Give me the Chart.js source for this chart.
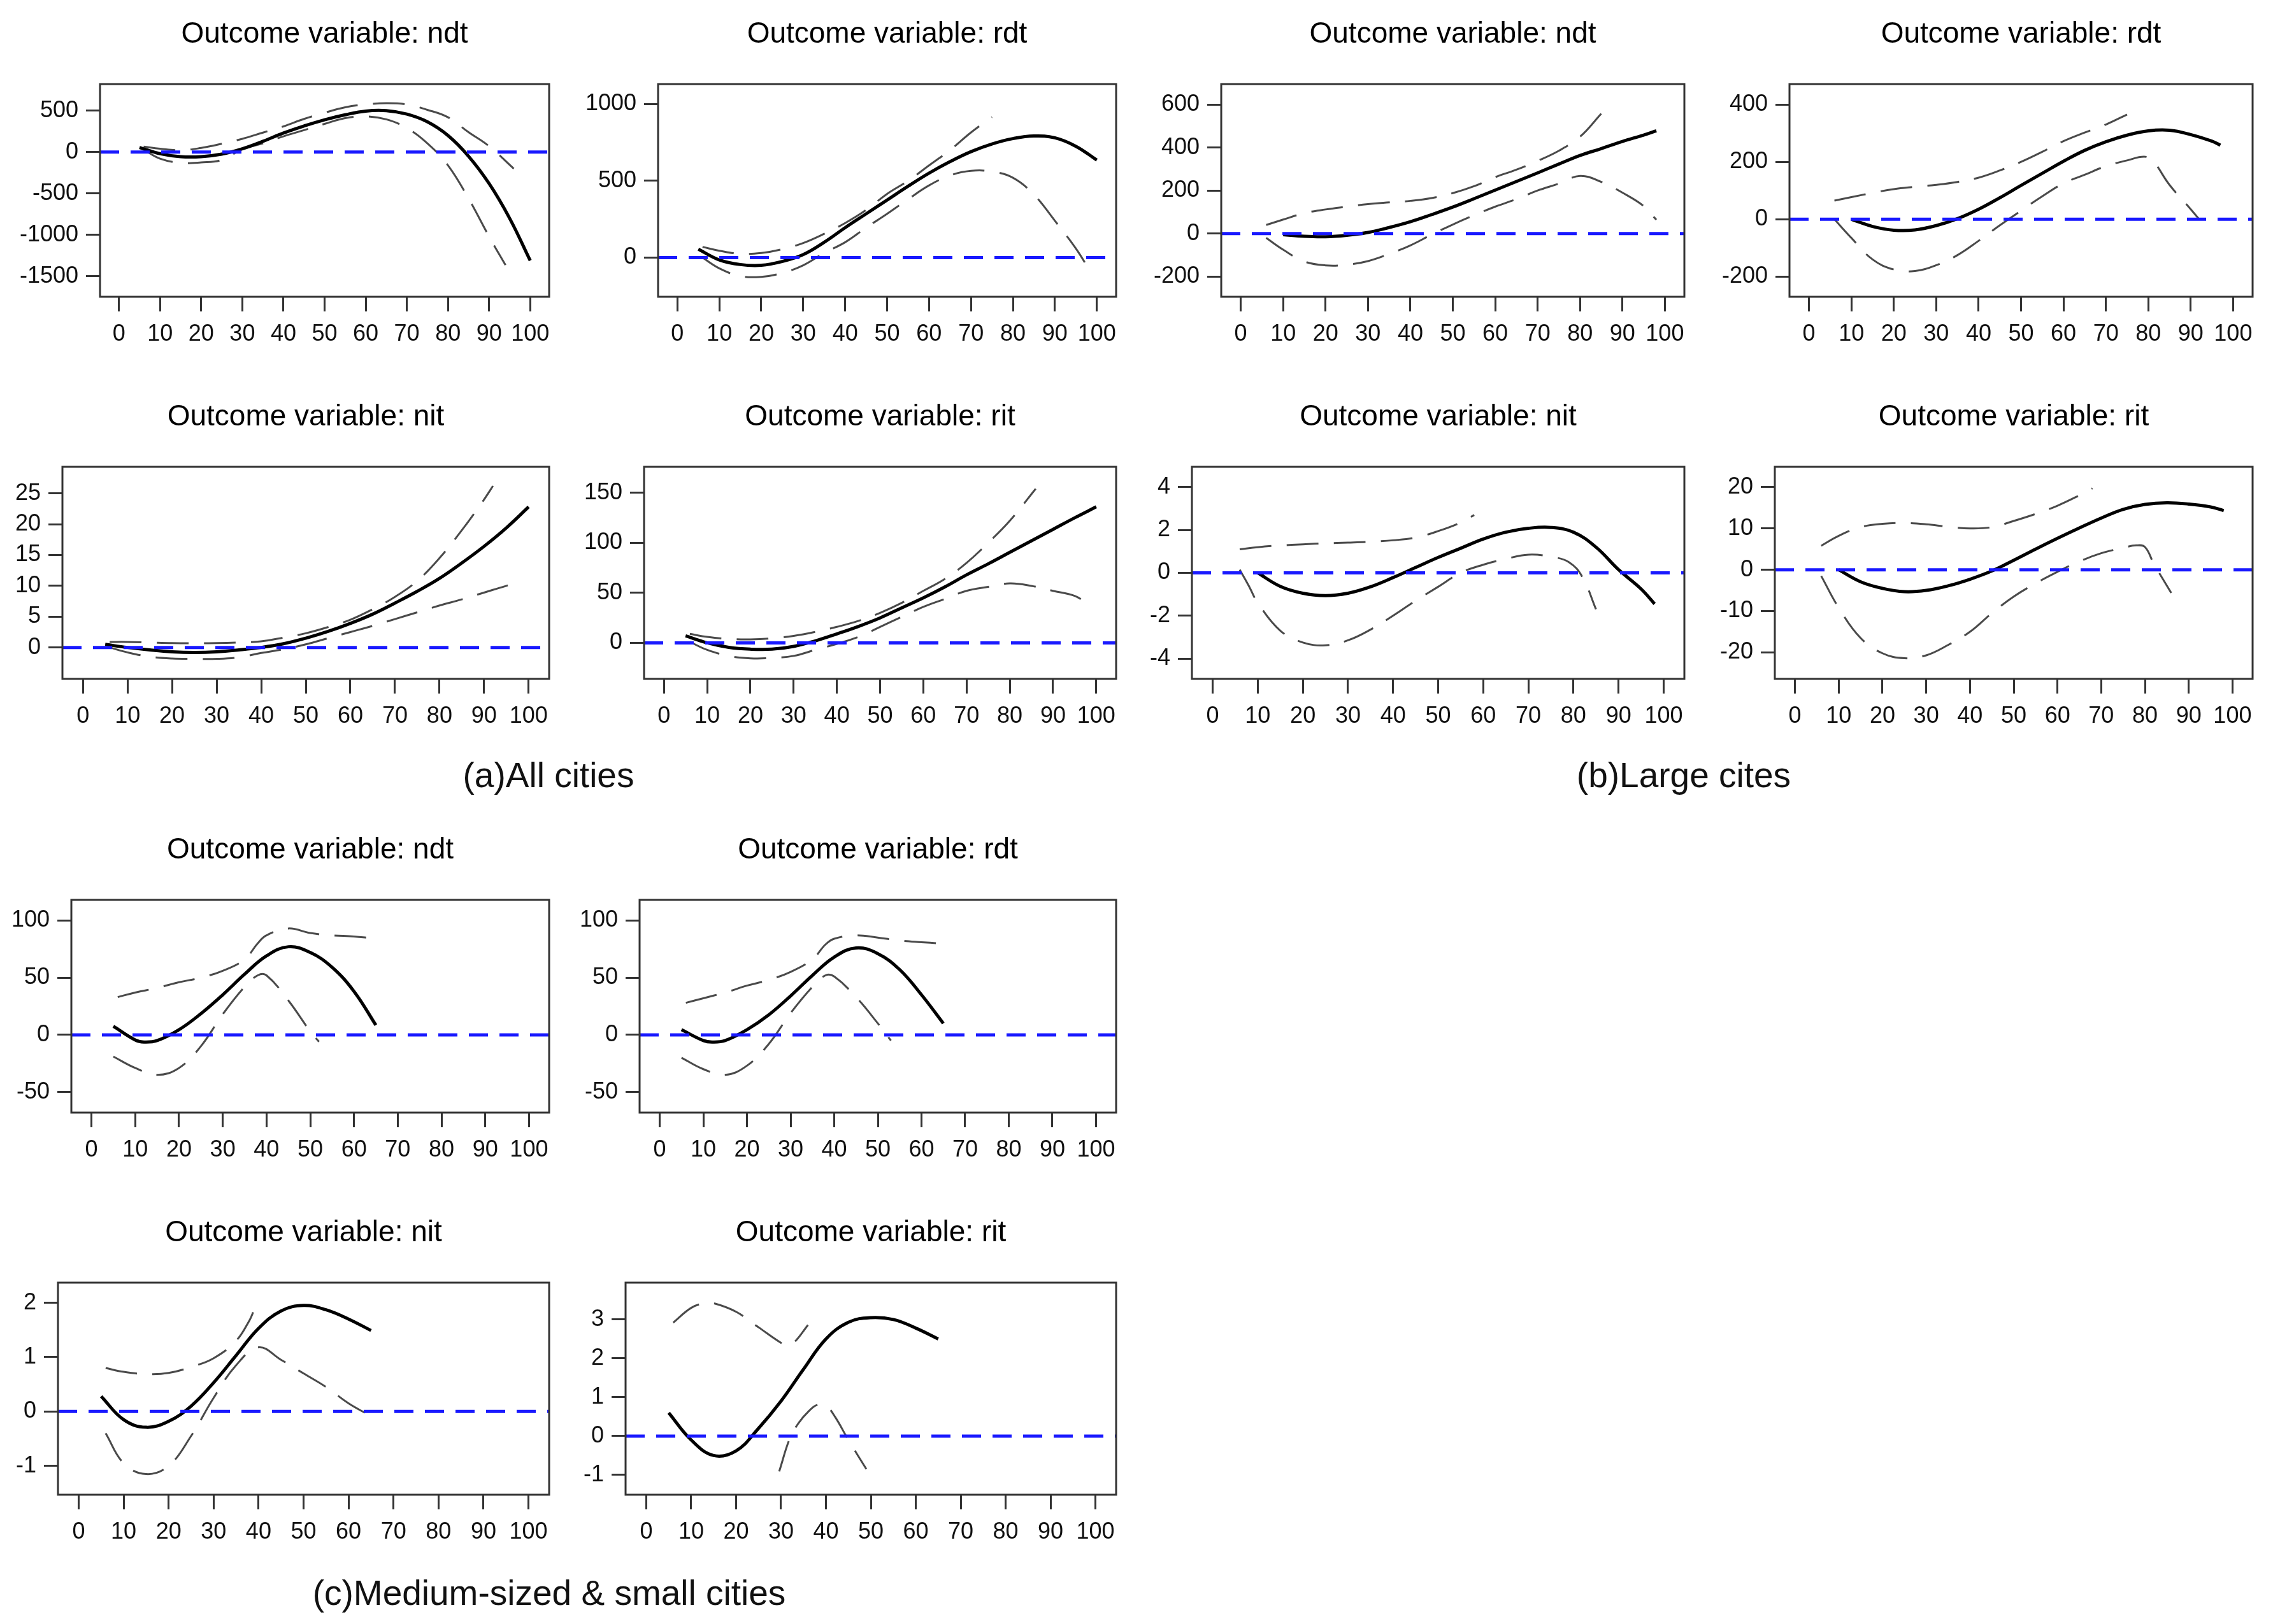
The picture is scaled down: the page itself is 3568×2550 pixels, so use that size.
<!DOCTYPE html>
<html>
<head>
<meta charset="utf-8">
<script src="https://cdn.jsdelivr.net/npm/chart.js@4.4.1/dist/chart.umd.min.js"></script>
<style>
  html, body { margin: 0; padding: 0; background: #fff; overflow: hidden; }
  #page { position: relative; width: 3568px; height: 2550px; background: #fff; }
  #page canvas { position: absolute; }
  .caption {
    position: absolute; transform: translate(-50%, -50%); white-space: nowrap;
    font-family: "Liberation Sans", Arial, sans-serif; font-size: 55px; color: #111;
  }
</style>
</head>
<body>
<div id="page">
  <div class="caption" style="left:861px; top:1217px;">(a)All cities</div>
  <div class="caption" style="left:2643px; top:1217px;">(b)Large cites</div>
  <div class="caption" style="left:862px; top:2501px;">(c)Medium-sized &amp; small cities</div>
</div>
<script>
// ---- data (x = threshold, y = effect) ----
const xTicks = [0, 10, 20, 30, 40, 50, 60, 70, 80, 90, 100];
const X_MIN = -4.6, X_MAX = 104.6;

// (a) All cities
const allNdtTicks = [-1500, -1000, -500, 0, 500];
const allNdtEst = [[5,55],[10,-20],[15,-55],[20,-55],[25,-25],[30,40],[35,130],[40,230],[45,315],[50,390],[55,450],[60,495],[65,500],[70,458],[75,365],[80,200],[85,-50],[90,-380],[95,-800],[100,-1310]];
const allNdtUp = [[6,65],[10,40],[15,22],[20,50],[25,100],[30,160],[35,235],[40,310],[45,400],[50,475],[55,540],[60,575],[65,590],[70,575],[75,510],[80,420],[85,240],[90,70],[96,-200]];
const allNdtLo = [[6,30],[10,-80],[15,-130],[20,-125],[25,-95],[30,35],[35,105],[40,190],[45,265],[50,340],[55,410],[60,430],[65,395],[70,290],[75,105],[80,-160],[85,-560],[90,-1020],[94,-1365]];

const allRdtTicks = [0, 500, 1000];
const allRdtEst = [[5,55],[10,-15],[15,-45],[20,-50],[25,-25],[30,20],[35,100],[40,195],[45,285],[50,375],[55,465],[60,550],[65,625],[70,690],[75,740],[80,775],[85,792],[90,780],[95,725],[100,635]];
const allRdtUp = [[6,70],[10,45],[15,25],[20,30],[25,55],[30,95],[35,155],[40,225],[45,310],[50,415],[55,500],[60,600],[65,700],[70,815],[75,915]];
const allRdtLo = [[6,0],[10,-70],[15,-120],[20,-125],[25,-100],[30,-50],[35,30],[40,100],[45,195],[50,285],[55,380],[60,470],[65,535],[70,565],[75,560],[80,520],[85,410],[90,240],[95,60],[98,-70]];

const allNitTicks = [0, 5, 10, 15, 20, 25];
const allNitEst = [[5,0.5],[10,0],[15,-0.4],[20,-0.7],[25,-0.8],[30,-0.7],[35,-0.4],[40,0],[45,0.6],[50,1.5],[55,2.6],[60,3.9],[65,5.4],[70,7.2],[75,9.1],[80,11.2],[85,13.7],[90,16.4],[95,19.4],[100,22.8]];
const allNitUp = [[6,0.9],[10,0.9],[15,0.8],[20,0.7],[25,0.7],[30,0.7],[35,0.8],[40,1.0],[45,1.6],[50,2.3],[55,3.3],[60,4.5],[65,6.2],[70,8.2],[75,10.8],[80,14.5],[85,19],[90,24],[92,26.2]];
const allNitLo = [[6,0],[10,-0.8],[15,-1.5],[20,-1.8],[25,-1.85],[30,-1.85],[35,-1.6],[40,-0.9],[45,-0.3],[50,0.5],[55,1.5],[60,2.5],[65,3.5],[70,4.6],[75,5.7],[80,6.8],[85,7.8],[90,8.9],[95,10],[98,10.6]];

const allRitTicks = [0, 50, 100, 150];
const allRitEst = [[5,7],[10,0],[15,-4.5],[20,-6.3],[25,-6.3],[30,-3.5],[35,2],[40,9],[45,16.5],[50,25],[55,35],[60,45],[65,56],[70,68],[75,79],[80,90.5],[85,102],[90,113.5],[95,125],[100,136]];
const allRitUp = [[6,9],[10,6],[15,4],[20,3.5],[25,4.5],[30,7],[35,11],[40,16],[45,22],[50,30],[55,40],[60,52],[65,64],[70,80],[75,100],[80,122],[86,154]];
const allRitLo = [[6,1],[10,-7],[15,-13],[20,-15.4],[25,-15],[30,-13],[35,-7],[40,-1],[45,6],[50,16],[55,26],[60,36],[65,44],[70,52],[75,56],[80,59.5],[85,57],[90,52],[95,47],[98,39]];

// (b) Large cities
const bigNdtTicks = [-200, 0, 200, 400, 600];
const bigNdtEst = [[10,-5],[15,-13],[20,-15],[25,-8],[30,5],[35,28],[40,55],[45,88],[50,123],[55,162],[60,202],[65,242],[70,282],[75,323],[80,363],[85,395],[90,428],[95,458],[98,478]];
const bigNdtUp = [[6,40],[10,65],[15,95],[20,112],[25,125],[30,137],[35,145],[40,152],[45,165],[50,188],[55,220],[60,262],[65,297],[70,338],[75,385],[80,450],[85,557]];
const bigNdtLo = [[6,-20],[10,-75],[15,-130],[20,-148],[25,-145],[30,-128],[35,-95],[40,-55],[45,-5],[50,42],[55,85],[60,125],[65,160],[70,200],[75,232],[80,268],[85,240],[90,190],[95,128],[98,64]];

const bigRdtTicks = [-200, 0, 200, 400];
const bigRdtEst = [[10,0],[15,-25],[20,-38],[25,-37],[30,-22],[35,2],[40,35],[45,75],[50,118],[55,160],[60,202],[65,240],[70,270],[75,293],[80,308],[85,310],[90,295],[95,272],[97,258]];
const bigRdtUp = [[6,65],[10,77],[15,92],[20,105],[25,113],[30,120],[35,130],[40,145],[45,170],[50,200],[55,235],[60,272],[65,302],[70,330],[75,365]];
const bigRdtLo = [[6,0],[10,-65],[15,-140],[20,-175],[25,-180],[30,-160],[35,-125],[40,-75],[45,-21],[50,30],[55,80],[60,125],[65,155],[70,185],[75,205],[79,218],[81,205],[85,120],[90,35],[92,0]];

const bigNitTicks = [-4, -2, 0, 2, 4];
const bigNitEst = [[10,0],[15,-0.63],[20,-0.95],[25,-1.06],[30,-0.95],[35,-0.65],[40,-0.22],[45,0.25],[50,0.72],[55,1.15],[60,1.58],[65,1.9],[70,2.08],[75,2.12],[80,1.9],[85,1.2],[90,0.15],[95,-0.75],[98,-1.45]];
const bigNitUp = [[6,1.1],[10,1.2],[15,1.28],[20,1.33],[25,1.38],[30,1.41],[35,1.45],[40,1.52],[45,1.65],[50,1.95],[55,2.35],[58,2.7]];
const bigNitLo = [[6,0.15],[8,-0.6],[10,-1.4],[15,-2.7],[20,-3.25],[25,-3.38],[30,-3.15],[35,-2.65],[40,-2.0],[45,-1.3],[50,-0.65],[55,0],[60,0.38],[65,0.65],[70,0.85],[75,0.75],[79,0.5],[82,-0.2],[85,-1.7]];

const bigRitTicks = [-20, -10, 0, 10, 20];
const bigRitEst = [[10,0],[15,-2.9],[20,-4.5],[25,-5.3],[30,-5.0],[35,-3.9],[40,-2.3],[45,-0.3],[50,2.3],[55,5],[60,7.6],[65,10.1],[70,12.5],[75,14.6],[80,15.8],[85,16.2],[90,15.9],[95,15.2],[98,14.3]];
const bigRitUp = [[6,5.8],[10,8.2],[15,10.3],[20,11.1],[25,11.3],[30,11],[35,10.4],[40,10],[45,10.3],[50,11.8],[55,13.5],[60,15.5],[65,18],[68,19.7]];
const bigRitLo = [[6,-1.5],[10,-9.2],[15,-16.5],[20,-20.2],[25,-21.4],[30,-20.7],[35,-18.2],[40,-15],[45,-10.5],[50,-6.5],[55,-3.3],[60,-0.5],[65,2],[70,4],[75,5.3],[78,5.9],[80,5.5],[82,1.5],[86,-5.6]];

// (c) Medium-sized & small cities
const medNdtTicks = [-50, 0, 50, 100];
const medNdtEst = [[5,7.5],[10,-4.5],[12,-6.3],[15,-5],[20,4.5],[25,18.5],[30,35],[35,53],[40,69],[45,77],[50,72],[55,59],[60,38],[65,8.5]];
const medNdtUp = [[6,33],[10,37],[15,41],[20,46],[25,50],[30,56],[35,66],[38,80],[40,87],[45,93],[50,89],[55,87],[60,86],[64,84.5]];
const medNdtLo = [[5,-19],[10,-29],[15,-35],[20,-29],[25,-10],[30,18],[35,42],[38,52],[40,52],[45,30],[50,3],[52,-6]];

const medRdtTicks = [-50, 0, 50, 100];
const medRdtEst = [[5,4.5],[10,-5],[12,-6.3],[15,-5],[20,4.5],[25,17.5],[30,34],[35,52],[40,68],[45,76],[50,71],[55,57],[60,35],[65,10]];
const medRdtUp = [[6,28],[10,32],[15,37],[20,43],[25,48],[30,55],[35,66],[38,79],[40,84],[45,87],[50,85],[55,82.5],[60,81],[64,80]];
const medRdtLo = [[5,-20],[10,-30],[15,-35],[20,-27],[25,-8],[30,19],[35,42],[38,52],[40,51],[45,33],[50,10],[53,-5]];

const medNitTicks = [-1, 0, 1, 2];
const medNitEst = [[5,0.28],[10,-0.15],[15,-0.29],[20,-0.18],[25,0.1],[30,0.53],[35,1.03],[40,1.53],[45,1.85],[50,1.95],[55,1.87],[60,1.7],[65,1.49]];
const medNitUp = [[6,0.8],[10,0.73],[15,0.69],[20,0.71],[25,0.82],[30,0.98],[35,1.3],[38,1.68],[39,1.87]];
const medNitLo = [[6,-0.4],[10,-0.95],[15,-1.15],[20,-1.0],[25,-0.45],[30,0.25],[35,0.85],[40,1.18],[45,0.95],[50,0.7],[55,0.45],[60,0.15],[64,-0.04]];

const medRitTicks = [-1, 0, 1, 2, 3];
const medRitEst = [[5,0.6],[10,-0.1],[15,-0.5],[20,-0.38],[25,0.2],[30,0.9],[35,1.72],[40,2.5],[45,2.93],[50,3.05],[55,3.0],[60,2.78],[65,2.5]];
const medRitUp = [[6,2.92],[10,3.3],[13,3.42],[15,3.42],[20,3.2],[25,2.8],[30,2.4],[31.5,2.33],[33,2.42],[36,2.86]];
const medRitLo = [[29.6,-0.91],[32,-0.05],[34,0.35],[36,0.62],[38,0.8],[40,0.78],[42,0.5],[45,-0.1],[49,-0.85]];

// ---- panel layout (plot box in page px: left, top, right, bottom) ----
const panels = [
  { title: "Outcome variable: ndt", box: [157, 132, 862, 466],  y: [-1747, 821],  ticks: allNdtTicks, est: allNdtEst, up: allNdtUp, lo: allNdtLo },
  { title: "Outcome variable: rdt", box: [1033, 132, 1752, 466], y: [-255, 1130],  ticks: allRdtTicks, est: allRdtEst, up: allRdtUp, lo: allRdtLo },
  { title: "Outcome variable: ndt", box: [1917, 132, 2644, 466], y: [-294, 695],   ticks: bigNdtTicks, est: bigNdtEst, up: bigNdtUp, lo: bigNdtLo },
  { title: "Outcome variable: rdt", box: [2809, 132, 3536, 466], y: [-270, 471],   ticks: bigRdtTicks, est: bigRdtEst, up: bigRdtUp, lo: bigRdtLo },
  { title: "Outcome variable: nit", box: [98, 733, 862, 1066],   y: [-5.1, 29.3],  ticks: allNitTicks, est: allNitEst, up: allNitUp, lo: allNitLo },
  { title: "Outcome variable: rit", box: [1011, 733, 1752, 1066], y: [-36, 176],   ticks: allRitTicks, est: allRitEst, up: allRitUp, lo: allRitLo },
  { title: "Outcome variable: nit", box: [1871, 733, 2644, 1066], y: [-4.95, 4.95], ticks: bigNitTicks, est: bigNitEst, up: bigNitUp, lo: bigNitLo },
  { title: "Outcome variable: rit", box: [2786, 733, 3536, 1066], y: [-26.4, 24.9], ticks: bigRitTicks, est: bigRitEst, up: bigRitUp, lo: bigRitLo },
  { title: "Outcome variable: ndt", box: [112, 1413, 862, 1747],  y: [-68, 118],   ticks: medNdtTicks, est: medNdtEst, up: medNdtUp, lo: medNdtLo },
  { title: "Outcome variable: rdt", box: [1004, 1413, 1752, 1747], y: [-68, 118],  ticks: medRdtTicks, est: medRdtEst, up: medRdtUp, lo: medRdtLo },
  { title: "Outcome variable: nit", box: [91, 2014, 862, 2347],   y: [-1.53, 2.37], ticks: medNitTicks, est: medNitEst, up: medNitUp, lo: medNitLo },
  { title: "Outcome variable: rit", box: [982, 2014, 1752, 2347], y: [-1.51, 3.95], ticks: medRitTicks, est: medRitEst, up: medRitUp, lo: medRitLo }
];

const FONT = '"Liberation Sans", Arial, sans-serif';
const PAD_L = 200, PAD_R = 30, PAD_T = 140, PAD_B = 110;

function toXY(pairs) {
  return pairs.map(([x, y]) => ({ x: x, y: y }));
}

// frame around the plotting region (R style box)
const framePlugin = {
  id: "frame",
  afterDatasetsDraw(chart) {
    const { ctx, chartArea: a } = chart;
    ctx.save();
    ctx.strokeStyle = "#333";
    ctx.lineWidth = 3;
    ctx.strokeRect(a.left, a.top, a.right - a.left, a.bottom - a.top);
    ctx.restore();
  }
};

function axisTicks(list) {
  return scale => { scale.ticks = list.map(v => ({ value: v })); };
}

// plain numbers, no thousands separator
const plain = v => String(v);

function makePanel(p) {
  const [l, t, r, b] = p.box;
  const w = (r - l) + PAD_L + PAD_R;
  const h = (b - t) + PAD_T + PAD_B;
  const cv = document.createElement("canvas");
  cv.width = w; cv.height = h;
  cv.style.left = (l - PAD_L) + "px";
  cv.style.top = (t - PAD_T) + "px";
  cv.style.width = w + "px"; cv.style.height = h + "px";
  document.getElementById("page").appendChild(cv);

  const zeroLine = [[X_MIN, 0], [X_MAX, 0]];
  const ciStyle = { borderColor: "#4a4a4a", borderWidth: 3, borderDash: [50, 24] };

  new Chart(cv.getContext("2d"), {
    type: "line",
    data: {
      datasets: [
        { data: toXY(zeroLine), borderColor: "rgb(25,25,255)", borderWidth: 5, borderDash: [30, 18], tension: 0 },
        { data: toXY(p.est), borderColor: "#000", borderWidth: 5 },
        Object.assign({ data: toXY(p.up) }, ciStyle),
        Object.assign({ data: toXY(p.lo) }, ciStyle)
      ]
    },
    options: {
      responsive: false,
      animation: false,
      devicePixelRatio: 1,
      layout: { padding: { left: 0, right: PAD_R, top: 0, bottom: 0 } },
      elements: {
        point: { radius: 0 },
        line: { tension: 0.4, fill: false }
      },
      plugins: {
        legend: { display: false },
        tooltip: { enabled: false },
        title: {
          display: true, text: p.title, fullSize: false, color: "#000",
          font: { family: FONT, size: 46, weight: "normal" },
          padding: { top: 35, bottom: PAD_T - 35 - 55.2 }
        }
      },
      scales: {
        x: {
          type: "linear", min: X_MIN, max: X_MAX,
          afterBuildTicks: axisTicks(xTicks),
          afterFit: s => { s.height = PAD_B; },
          border: { display: false },
          grid: { drawOnChartArea: false, drawTicks: true, tickLength: 23, tickWidth: 3, tickColor: "#333" },
          ticks: { color: "#111", font: { family: FONT, size: 36 }, padding: 14, maxRotation: 0, autoSkip: false, callback: plain }
        },
        y: {
          type: "linear", min: p.y[0], max: p.y[1],
          afterBuildTicks: axisTicks(p.ticks),
          afterFit: s => { s.width = PAD_L; },
          border: { display: false },
          grid: { drawOnChartArea: false, drawTicks: true, tickLength: 22, tickWidth: 3, tickColor: "#333" },
          ticks: { color: "#111", font: { family: FONT, size: 36 }, padding: 12, autoSkip: false, callback: plain }
        }
      }
    },
    plugins: [framePlugin]
  });
}

panels.forEach(makePanel);
</script>
</body>
</html>
